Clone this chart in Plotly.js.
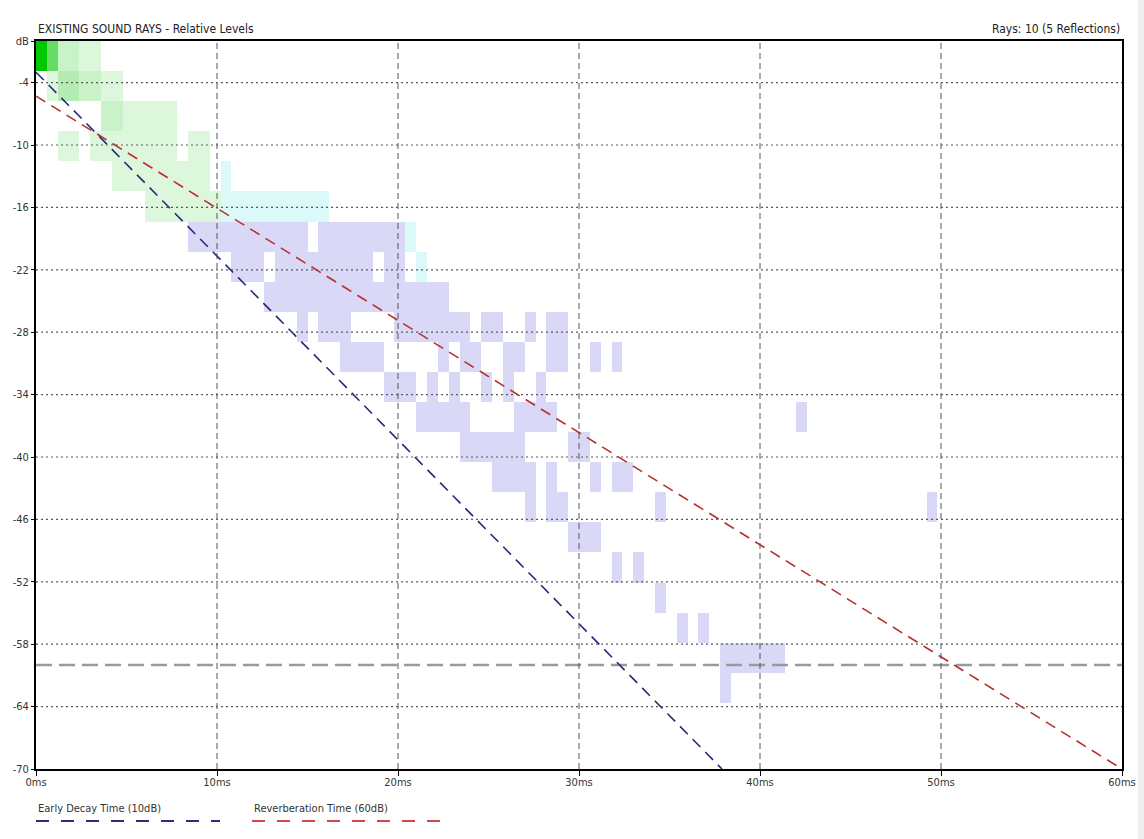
<!DOCTYPE html>
<html>
<head>
<meta charset="utf-8">
<script src="https://cdn.plot.ly/plotly-3.0.1.min.js"></script>
<style>
  html, body { margin: 0; padding: 0; background: #ffffff; }
  #chart { width: 1144px; height: 839px; }
</style>
</head>
<body>
<div id="chart"></div>
<script>
// ---------------- DATA ----------------
const xTickValues = [0, 10, 20, 30, 40, 50, 60];
const xTickLabels = ['0ms', '10ms', '20ms', '30ms', '40ms', '50ms', '60ms'];
const yTickValues = [-70, -64, -58, -52, -46, -40, -34, -28, -22, -16, -10, -4, 0];
const yTickLabels = ['-70', '-64', '-58', '-52', '-46', '-40', '-34', '-28', '-22', '-16', '-10', '-4', 'dB'];

// Decay lines (time ms, level dB)
const edtTime = [0, 37.9];
const edtLevel = [-3.0, -70];
const rtTime = [0, 60];
const rtLevel = [-5.3, -70];
const floorTime = [0, 60];
const floorLevel = [-60, -60];

// Ray arrival cells: [level dB (bin centre), from ms, to ms, weight]
const greenRays = [
  [-1.4, 0.0, 0.6, 5], [-1.4, 0.6, 1.2, 3], [-1.4, 1.2, 2.4, 1.5], [-1.4, 2.4, 3.6, 1],
  [-4.3, 0.6, 1.2, 1], [-4.3, 1.2, 2.4, 2], [-4.3, 2.4, 3.6, 1.5], [-4.3, 3.6, 4.8, 1],
  [-7.2, 3.6, 4.8, 1.5], [-7.2, 4.8, 7.8, 1],
  [-10.1, 1.2, 2.4, 1], [-10.1, 3.0, 7.8, 1], [-10.1, 8.4, 9.6, 1],
  [-13.0, 4.2, 9.6, 1],
  [-15.9, 6.0, 10.2, 1]
];
const cyanRays = [
  [-13.0, 10.2, 10.8, 1],
  [-15.9, 10.2, 16.2, 1],
  [-18.8, 20.4, 21.0, 1],
  [-21.7, 21.0, 21.6, 1]
];
const purpleRays = [
  [-18.8, 8.4, 15.0, 1], [-18.8, 15.6, 20.4, 1],
  [-21.7, 10.8, 12.6, 1], [-21.7, 13.2, 18.6, 1], [-21.7, 19.2, 20.4, 1],
  [-24.6, 12.6, 22.8, 1],
  [-27.5, 14.4, 15.0, 1], [-27.5, 15.6, 17.4, 1], [-27.5, 19.8, 24.0, 1], [-27.5, 24.6, 25.8, 1],
  [-27.5, 27.0, 27.6, 1], [-27.5, 28.2, 29.4, 1],
  [-30.4, 16.8, 19.2, 1], [-30.4, 22.2, 22.8, 1], [-30.4, 23.4, 24.6, 1], [-30.4, 25.8, 27.0, 1],
  [-30.4, 28.2, 29.4, 1], [-30.4, 30.6, 31.2, 1], [-30.4, 31.8, 32.4, 1],
  [-33.2, 19.2, 21.0, 1], [-33.2, 21.6, 22.2, 1], [-33.2, 22.8, 23.4, 1], [-33.2, 24.6, 25.2, 1],
  [-33.2, 25.8, 26.4, 1], [-33.2, 27.6, 28.2, 1],
  [-36.1, 21.0, 24.0, 1], [-36.1, 26.4, 28.8, 1], [-36.1, 42.0, 42.6, 1],
  [-39.0, 23.4, 27.0, 1], [-39.0, 29.4, 30.6, 1],
  [-41.9, 25.2, 27.6, 1], [-41.9, 28.2, 28.8, 1], [-41.9, 30.6, 31.2, 1], [-41.9, 31.8, 33.0, 1],
  [-44.8, 27.0, 27.6, 1], [-44.8, 28.2, 29.4, 1], [-44.8, 34.2, 34.8, 1], [-44.8, 49.2, 49.8, 1],
  [-47.7, 29.4, 31.2, 1],
  [-50.6, 31.8, 32.4, 1], [-50.6, 33.0, 33.6, 1],
  [-53.5, 34.2, 34.8, 1],
  [-56.4, 35.4, 36.0, 1], [-56.4, 36.6, 37.2, 1],
  [-59.3, 37.8, 41.4, 1],
  [-62.2, 37.8, 38.4, 1]
];

// ---------------- BUILD ----------------
const TIME_BIN = 0.6;      // ms per cell
const LEVEL_BIN = 2.891;   // dB per cell
const N_COLS = 100, N_ROWS = 24;
const xCenters = Array.from({length: N_COLS}, (_, c) => (c + 0.5) * TIME_BIN);
const yCenters = Array.from({length: N_ROWS}, (_, r) => -(r + 0.5) * LEVEL_BIN);

function buildZ(runs) {
  const z = Array.from({length: N_ROWS}, () => Array(N_COLS).fill(null));
  runs.forEach(([lev, from, to, w]) => {
    const r = Math.round(-lev / LEVEL_BIN - 0.5);
    const c0 = Math.round(from / TIME_BIN), c1 = Math.round(to / TIME_BIN);
    for (let c = c0; c < c1; c++) z[r][c] = w;
  });
  return z;
}

const FONT = '"DejaVu Sans Condensed", "Liberation Sans Narrow", "Arial Narrow", "Liberation Sans", Arial, sans-serif';

function heat(runs, colorscale) {
  return {
    type: 'heatmap', x: xCenters, y: yCenters, z: buildZ(runs),
    colorscale: colorscale, zmin: 1, zmax: 5, showscale: false,
    hoverinfo: 'skip', xgap: 0, ygap: 0
  };
}

const traces = [
  heat(greenRays, [[0, '#ddf7dd'], [0.125, '#c9f2c9'], [0.25, '#b4edb4'], [0.5, '#66dc66'], [1, '#00c800']]),
  heat(cyanRays, [[0, '#dbf9f9'], [1, '#a0f0f0']]),
  heat(purpleRays, [[0, '#d9d9f7'], [1, '#b0b0ee']]),
  { type: 'scatter', mode: 'lines', x: floorTime, y: floorLevel, hoverinfo: 'skip',
    line: {color: '#9a9a9a', width: 2.5, dash: '16px,7px'} },
  { type: 'scatter', mode: 'lines', x: edtTime, y: edtLevel, hoverinfo: 'skip',
    line: {color: '#27287a', width: 1.6, dash: '11px,7px'} },
  { type: 'scatter', mode: 'lines', x: rtTime, y: rtLevel, hoverinfo: 'skip',
    line: {color: '#b83030', width: 1.6, dash: '11px,7px'} }
];

const shapes = [];
yTickValues.filter(v => v > -70 && v < 0).forEach(v => shapes.push({
  type: 'line', xref: 'x', yref: 'y', x0: 0, x1: 60, y0: v, y1: v,
  line: {color: '#5a5a5a', width: 1.2, dash: '2px,3px'}, layer: 'above'
}));
xTickValues.filter(v => v > 0 && v < 60).forEach(v => shapes.push({
  type: 'line', xref: 'x', yref: 'y', x0: v, x1: v, y0: -70, y1: 0,
  line: {color: '#555555', width: 1, dash: '6px,4px'}, layer: 'above'
}));
// legend sample lines
shapes.push({type: 'line', xref: 'paper', yref: 'paper', x0: 0, x1: 0.1694, y0: -0.0715, y1: -0.0715,
  line: {color: '#2d2d80', width: 2, dash: '13px,12px'}});
shapes.push({type: 'line', xref: 'paper', yref: 'paper', x0: 0.1989, x1: 0.372, y0: -0.0715, y1: -0.0715,
  line: {color: '#d04848', width: 2, dash: '13px,12px'}});
// right window edge
shapes.push({type: 'rect', xref: 'paper', yref: 'paper', x0: 1.0147, x1: 1.021, y0: -0.1, y1: 1.06,
  fillcolor: '#efefef', line: {width: 0}, layer: 'below'});

const annotations = [
  {text: 'EXISTING SOUND RAYS - Relative Levels', xref: 'paper', yref: 'paper', x: 0, y: 1, yshift: 3,
   xanchor: 'left', yanchor: 'bottom', showarrow: false, font: {family: FONT, size: 12, color: '#222'}},
  {text: 'Rays: 10 (5 Reflections)', xref: 'paper', yref: 'paper', x: 1, y: 1, yshift: 3,
   xanchor: 'right', yanchor: 'bottom', showarrow: false, font: {family: FONT, size: 12, color: '#222'}},
  {text: 'Early Decay Time (10dB)', xref: 'paper', yref: 'paper', x: 0, y: -0.0536,
   xanchor: 'left', yanchor: 'middle', showarrow: false, font: {family: FONT, size: 11, color: '#333'}},
  {text: 'Reverberation Time (60dB)', xref: 'paper', yref: 'paper', x: 0.1989, y: -0.0536,
   xanchor: 'left', yanchor: 'middle', showarrow: false, font: {family: FONT, size: 11, color: '#333'}}
];

const layout = {
  width: 1144, height: 839,
  margin: {l: 36, r: 22, t: 41, b: 70, pad: 0},
  paper_bgcolor: '#ffffff', plot_bgcolor: '#ffffff',
  showlegend: false,
  font: {family: FONT, size: 11, color: '#333'},
  xaxis: {
    range: [0, 60], tickvals: xTickValues, ticktext: xTickLabels,
    showgrid: false, zeroline: false, showline: true, linecolor: '#000', linewidth: 2, mirror: true,
    ticks: 'outside', ticklen: 5, tickcolor: '#000', ticklabelstandoff: -3,
    tickfont: {family: FONT, size: 11, color: '#333'},
    fixedrange: true
  },
  yaxis: {
    range: [-70, 0], tickvals: yTickValues, ticktext: yTickLabels,
    showgrid: false, zeroline: false, showline: true, linecolor: '#000', linewidth: 2, mirror: true,
    ticks: 'outside', ticklen: 3, tickcolor: '#000', tickfont: {family: FONT, size: 11, color: '#333'},
    fixedrange: true
  },
  shapes: shapes,
  annotations: annotations
};

Plotly.newPlot('chart', traces, layout, {staticPlot: true, displayModeBar: false});
</script>
</body>
</html>
